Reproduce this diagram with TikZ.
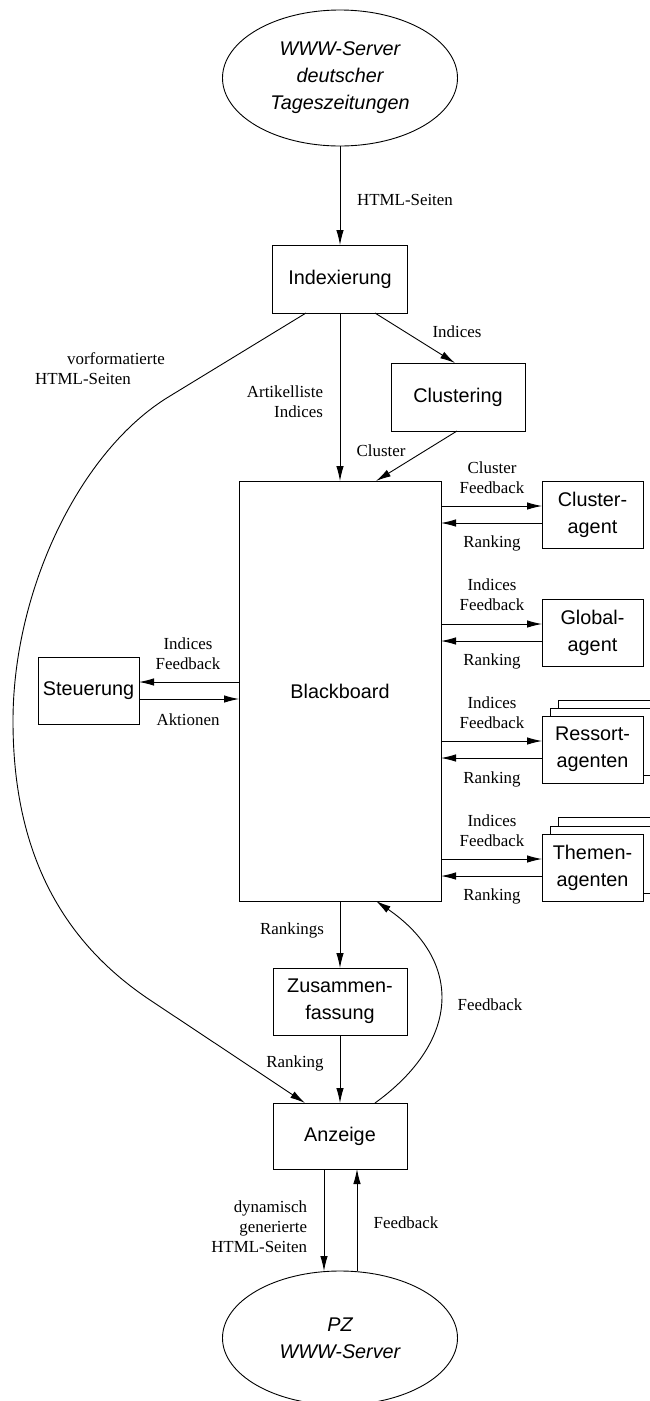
\documentclass[tikz,border=0pt]{standalone}
\usepackage{fontspec}
\setmainfont{Liberation Serif}
\setsansfont{Liberation Sans}
\usetikzlibrary{arrows.meta,shapes.geometric}
\newcommand\boxtextfont{\fontsize{19.8}{27}\selectfont\sffamily}
\newcommand\labeltextfont{\fontsize{16.9}{20}\selectfont}
\begin{document}
\begin{tikzpicture}[x=1pt,y=-1pt,
  every node/.style={inner sep=0pt, outer sep=0pt},
  proc/.style={draw, line width=0.9pt, fill=white, font=\boxtextfont, align=center},
  agentbox/.style={proc, minimum width=101pt, minimum height=67pt},
  srv/.style={draw, ellipse, line width=0.9pt, font=\boxtextfont\itshape, align=center,
              minimum width=235pt, minimum height=136pt},
  lbl/.style={font=\labeltextfont, align=center},
  arr/.style={line width=0.9pt, -{Latex[length=15pt,width=7.5pt]}}]
\useasboundingbox (0,0) rectangle (649,1401);

% servers
\node[srv] (src) at (340,78) {WWW-Server\\deutscher\\Tageszeitungen};
\node[srv, minimum height=134pt] (pz) at (340,1338) {PZ\\WWW-Server};

% processing boxes
\node[proc, minimum width=135pt, minimum height=68pt] (idx) at (340,279) {Indexierung};
\node[proc, minimum width=134pt, minimum height=68pt] (clu) at (458,397) {Clustering};
\node[proc, minimum width=202pt, minimum height=420pt] (bb) at (340,691) {Blackboard};
\node[agentbox] (st) at (88.5,690.5) {Steuerung};
\node[proc, minimum width=134pt, minimum height=67pt] (zus) at (340,1001.5) {Zusammen-\\fassung};
\node[proc, minimum width=134pt, minimum height=66pt] (anz) at (340,1136) {Anzeige};

% agents (stacked ones drawn back to front)
\node[agentbox] (cag) at (592.5,514.5) {Cluster-\\agent};
\node[agentbox] (gag) at (592.5,632.5) {Global-\\agent};
\node[agentbox] (rag2) at (608.5,733.5) {};
\node[agentbox] (rag1) at (600.5,741.5) {};
\node[agentbox] (rag) at (592.5,749.5) {Ressort-\\agenten};
\node[agentbox] (tag2) at (608.5,851) {};
\node[agentbox] (tag1) at (600.5,859.5) {};
\node[agentbox] (tag) at (592.5,867.5) {Themen-\\agenten};

% main flow
\draw[arr] (src) -- (idx);
\draw[arr] (idx) -- (bb);
\draw[arr] ([xshift=35pt]idx.south) -- ([xshift=-3pt]clu.north);
\draw[arr] ([xshift=-1pt]clu.south) -- ([xshift=36pt]bb.north);
\draw[arr] (bb) -- (zus);
\draw[arr] (zus) -- (anz);
\draw[arr] ([xshift=-16pt]anz.south) -- ([xshift=-16pt]pz.north);
\draw[arr] ([xshift=17pt]pz.north) -- ([xshift=17pt]anz.south);

% blackboard <-> agents
\foreach \a in {cag,gag,rag,tag} {
  \draw[arr] ([yshift=8.5pt]\a.west -| bb.east) -- ([yshift=8.5pt]\a.west);
  \draw[arr] ([yshift=-8.5pt]\a.west) -- ([yshift=-8.5pt]\a.west -| bb.east);
}

% blackboard <-> Steuerung
\draw[arr] ([yshift=8.5pt]st.east -| bb.west) -- ([yshift=8.5pt]st.east);
\draw[arr] ([yshift=-8.5pt]st.east) -- ([yshift=-8.5pt]st.east -| bb.west);

% preformatted pages around the left side
\draw[arr] ([xshift=-34pt]idx.south) -- (170,396)
  .. controls (80,450) and (13,590) .. (13,721)
  .. controls (13,850) and (60,940) .. (150,1000)
  -- ([xshift=-35pt]anz.north);

% feedback from display back to blackboard
\draw[arr] ([xshift=35pt]anz.north) .. controls (462,1040) and (462,960) .. ([xshift=36pt]bb.south);

% labels
\node[lbl] (l1) at (405,200) {HTML-Seiten};
\node[lbl] (l2) at (116,359) {vorformatierte};
\node[lbl] (l3) at (83,379) {HTML-Seiten};
\node[lbl, align=right, anchor=east] (l4) at (323,402) {Artikelliste\\Indices};
\node[lbl] (l5) at (457,332) {Indices};
\node[lbl] (l6) at (381,451) {Cluster};
\node[lbl] (l7) at (492,478) {Cluster\\Feedback};
\node[lbl] (l8) at (492,543) {Ranking};
\node[lbl] (l9) at (492,595) {Indices\\Feedback};
\node[lbl] (l10) at (492,661) {Ranking};
\node[lbl] (l11) at (492,713) {Indices\\Feedback};
\node[lbl] (l12) at (492,779) {Ranking};
\node[lbl] (l13) at (492,830.5) {Indices\\Feedback};
\node[lbl] (l14) at (492,896) {Ranking};
\node[lbl] (l15) at (188,653.5) {Indices\\Feedback};
\node[lbl] (l16) at (188,720) {Aktionen};
\node[lbl] (l17) at (292,930) {Rankings};
\node[lbl] (l18) at (295,1063) {Ranking};
\node[lbl] (l19) at (490,1005) {Feedback};
\node[lbl, align=right, anchor=east] (l20) at (307,1227) {dynamisch\\generierte\\HTML-Seiten};
\node[lbl] (l21) at (406,1223) {Feedback};
\end{tikzpicture}
\end{document}
